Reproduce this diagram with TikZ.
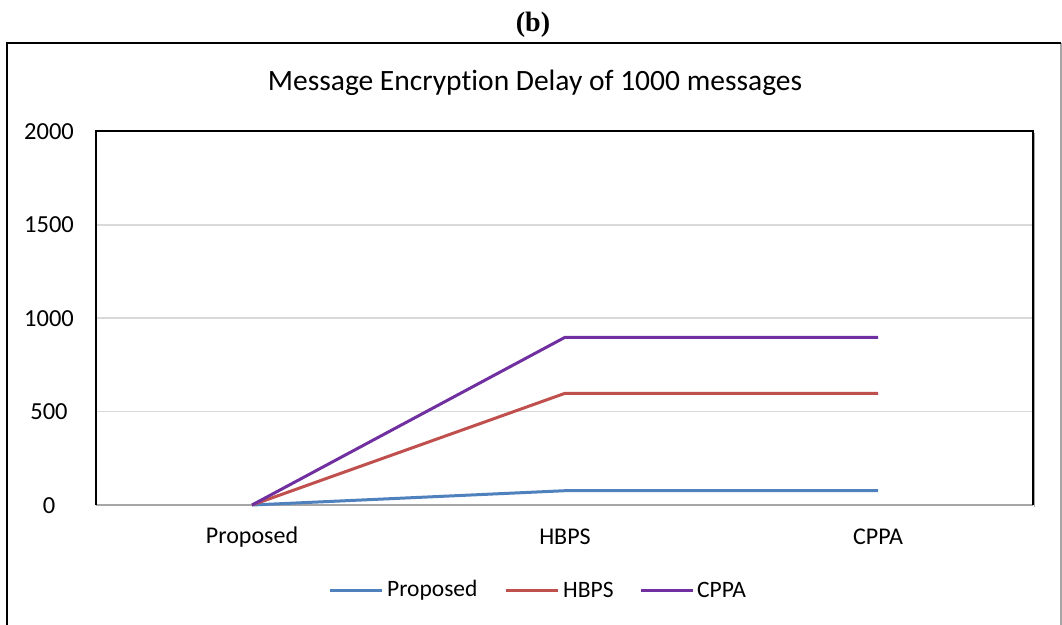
\documentclass[tikz,border=0pt]{standalone}
\usepackage{fontspec}
\setmainfont{Carlito}[RawFeature=-liga]
\newfontfamily\timesfont{Liberation Serif}
\definecolor{sblue}{HTML}{4F81BD}
\definecolor{sred}{HTML}{C0504D}
\definecolor{spurple}{HTML}{7030A0}
\definecolor{gridgray}{HTML}{D9D9D9}
\definecolor{axisgray}{HTML}{A6A6A6}
\begin{document}
\begin{tikzpicture}[x=1pt,y=-1pt,
  series/.style={line width=3pt,line join=round},
  ticklbl/.style={font=\fontsize{24.5}{24.5}\selectfont,inner sep=0pt},
  catlbl/.style={font=\fontsize{24}{24}\selectfont,inner sep=0pt},
  leglbl/.style={font=\fontsize{23.5}{23.5}\selectfont,inner sep=0pt,anchor=west},
  gridline/.style={gridgray,line width=1.5pt}]
\useasboundingbox (0,0) rectangle (1062,624);
\fill[white] (0,0) rectangle (1062,624);
% caption
\node[font=\timesfont\bfseries\fontsize{28}{28}\selectfont,inner sep=0pt] (cap) at (533,25) {(b)};
% outer frame
\coordinate (fbl) at (7,630);
\coordinate (ftl) at (7,43);
\coordinate (ftr) at (1061,43);
\coordinate (fbr) at (1061,630);
\draw[axisgray,line width=1.5pt] (ftr) -- (fbr);
\draw[black,line width=2pt] (fbl) -- (ftl) -- (ftr);
% title
\node[font=\fontsize{29.5}{29.5}\selectfont,inner sep=0pt] (title) at (535,83) {Message Encryption Delay of 1000 messages};
% gridlines
\coordinate (g15l) at (97,225); \coordinate (g15r) at (1033,225);
\coordinate (g10l) at (97,318); \coordinate (g10r) at (1033,318);
\coordinate (g05l) at (97,411.5); \coordinate (g05r) at (1033,411.5);
\draw[gridline] (g15l) -- (g15r);
\draw[gridline] (g10l) -- (g10r);
\draw[gridline] (g05l) -- (g05r);
% plot box
\coordinate (pbl) at (96,505);
\coordinate (ptl) at (96,131);
\coordinate (ptr) at (1033,131);
\coordinate (pbr) at (1033,505);
\draw[axisgray,line width=1.5pt] (1034.5,133) -- (1034.5,506.5);
\draw[axisgray,line width=2.5pt] (pbl) -- (pbr);
\draw[black,line width=2pt] (pbl) -- (ptl) -- (ptr) -- (pbr);
% tick labels
\node[ticklbl] (t0) at (49,506) {0};
\node[ticklbl] (t500) at (49,412) {500};
\node[ticklbl] (t1000) at (49,319) {1000};
\node[ticklbl] (t1500) at (49,225) {1500};
\node[ticklbl] (t2000) at (49,132) {2000};
% category labels
\node[catlbl] (cP) at (252,537) {Proposed};
\node[catlbl] (cH) at (565,537) {HBPS};
\node[catlbl] (cC) at (878,537) {CPPA};
% data points
\coordinate (p1) at (252,505); \coordinate (p2) at (565,490.7); \coordinate (p3) at (878,490.7);
\coordinate (h1) at (252,505); \coordinate (h2) at (565,393.3); \coordinate (h3) at (878,393.3);
\coordinate (c1) at (252,505); \coordinate (c2) at (565,337.3); \coordinate (c3) at (878,337.3);
\draw[series,sblue] (p1) -- (p2) -- (p3);
\draw[series,sred] (h1) -- (h2) -- (h3);
\draw[series,spurple] (c1) -- (c2) -- (c3);
% legend
\coordinate (lb1) at (330,590); \coordinate (lb2) at (382,590);
\coordinate (lr1) at (506,590); \coordinate (lr2) at (558,590);
\coordinate (lp1) at (641,590); \coordinate (lp2) at (693,590);
\draw[series,sblue] (lb1) -- (lb2);
\draw[series,sred] (lr1) -- (lr2);
\draw[series,spurple] (lp1) -- (lp2);
\node[leglbl] (lgP) at (387,590) {Proposed};
\node[leglbl] (lgH) at (563,590) {HBPS};
\node[leglbl] (lgC) at (697,590) {CPPA};
\end{tikzpicture}
\end{document}
